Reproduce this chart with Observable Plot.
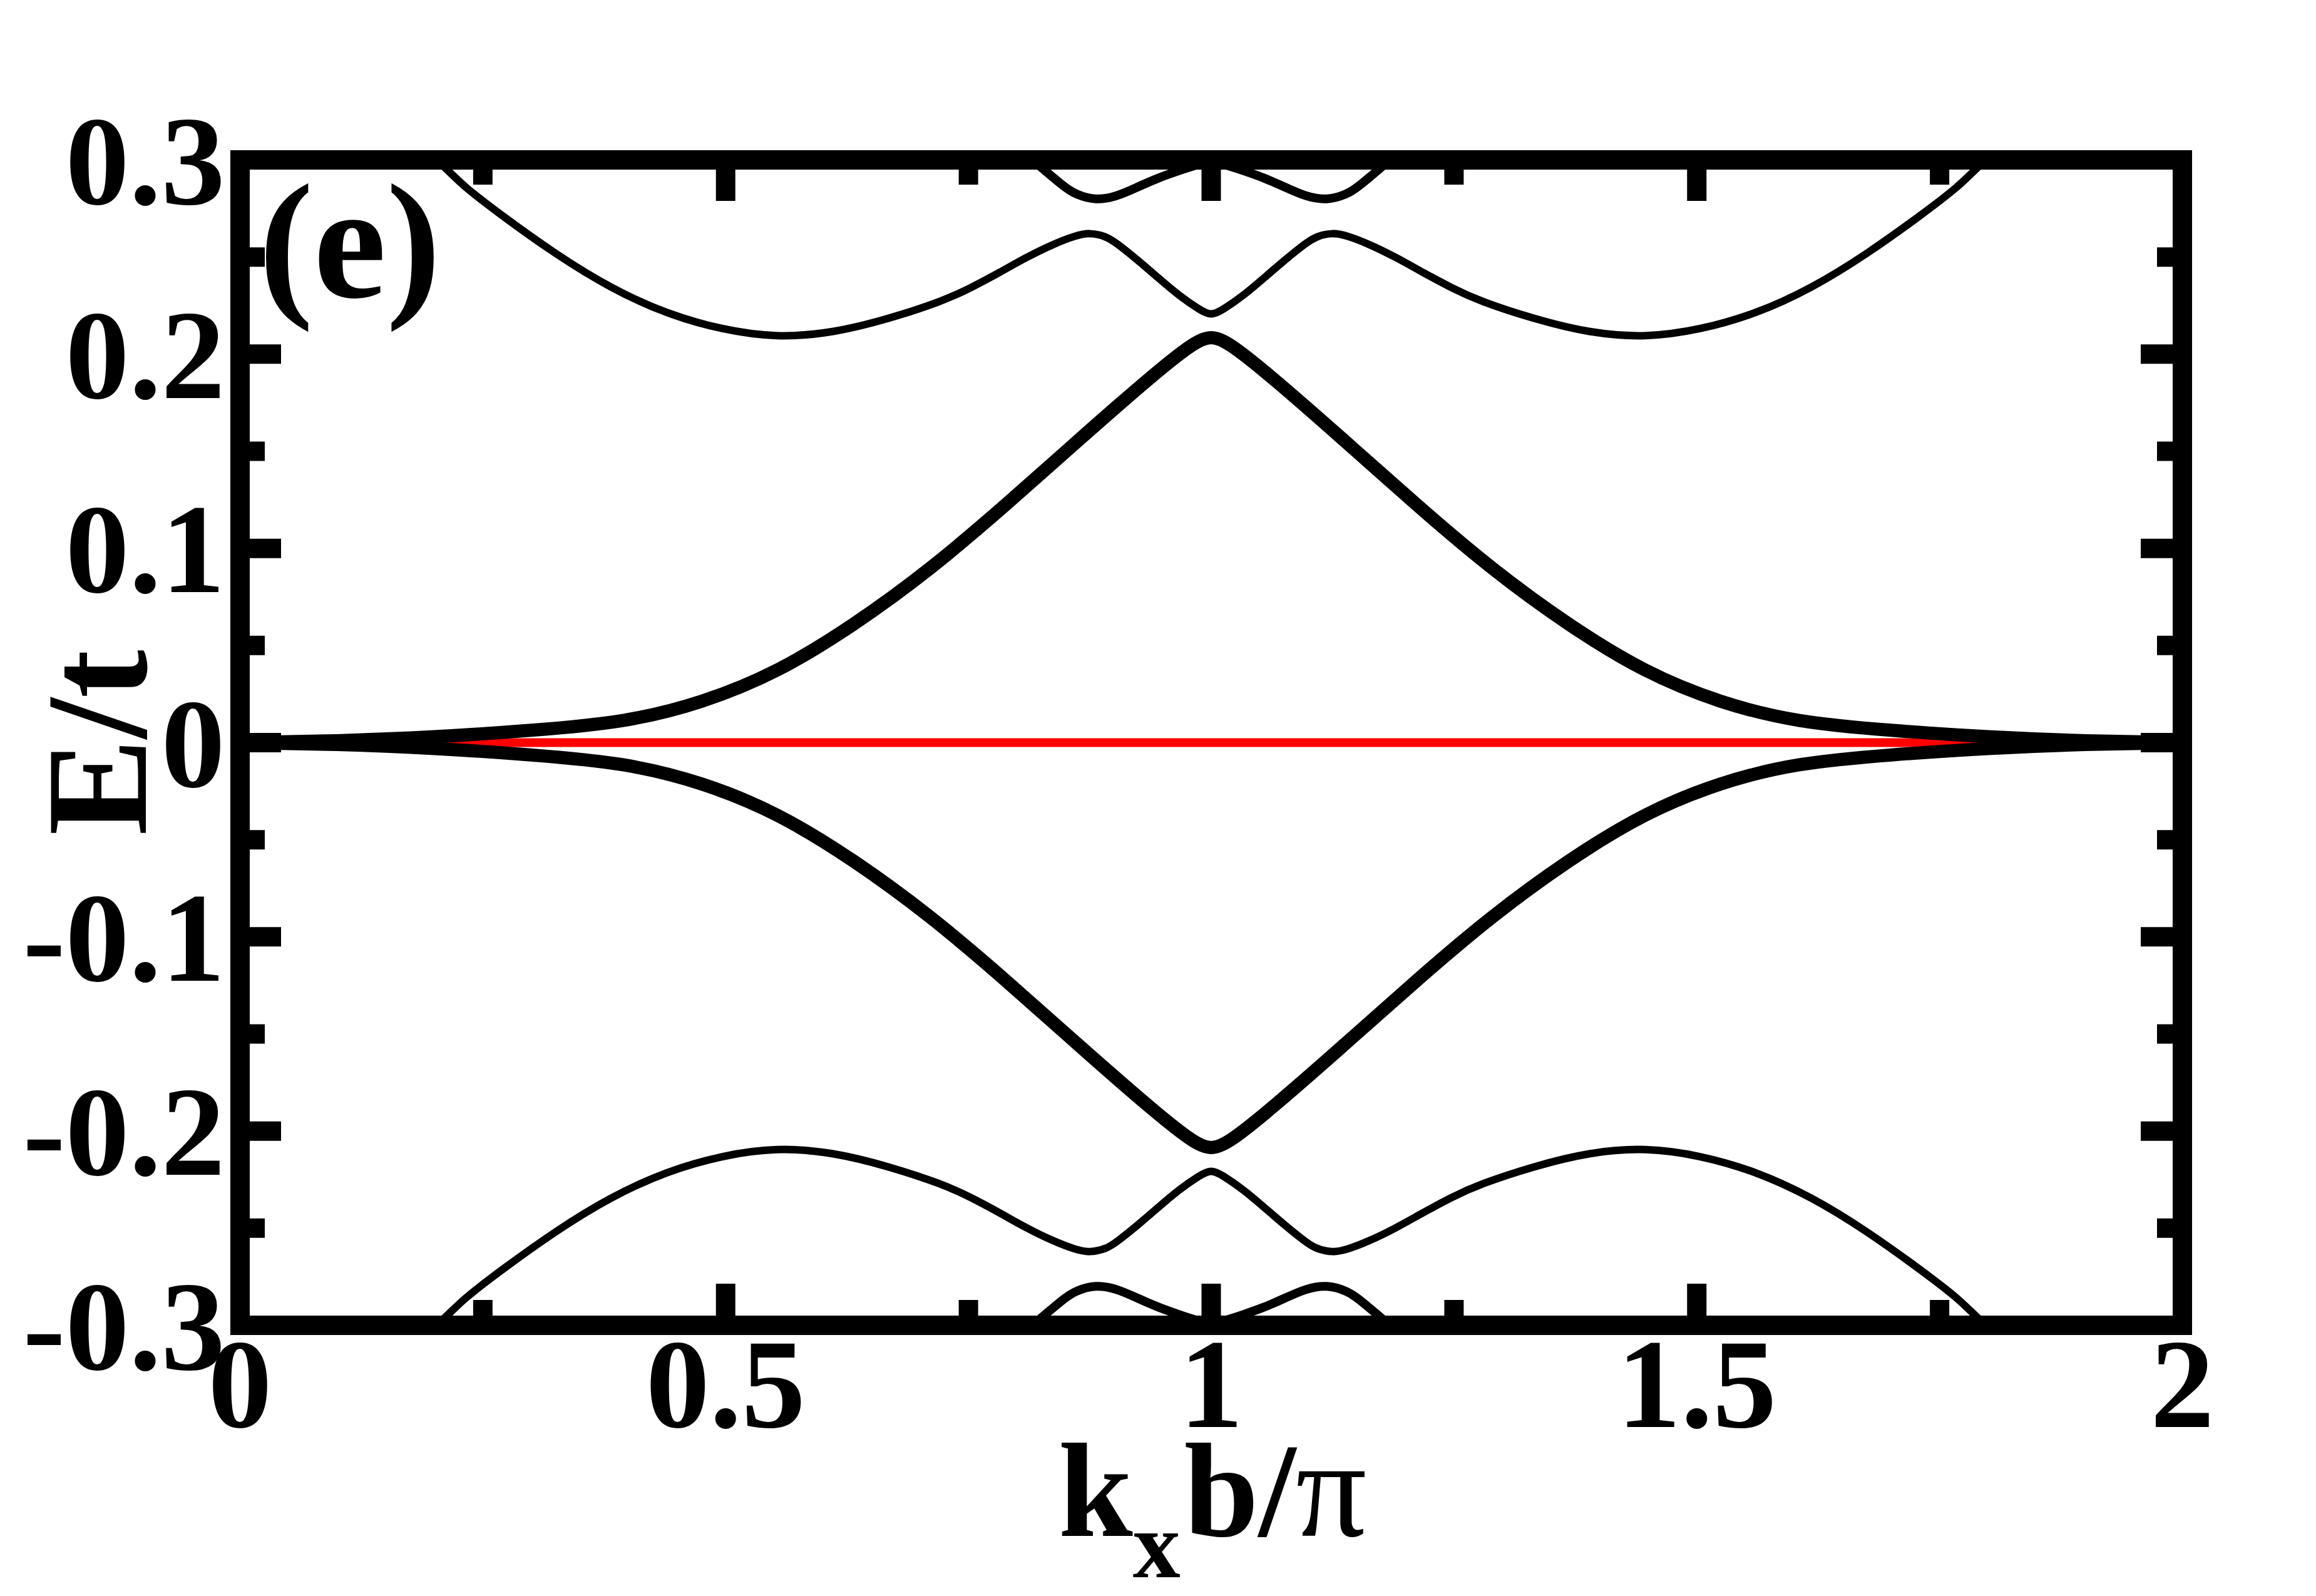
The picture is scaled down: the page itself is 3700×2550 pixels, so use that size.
<!DOCTYPE html>
<html>
<head>
<meta charset="utf-8">
<script src="https://cdn.jsdelivr.net/npm/d3@7"></script>
<script src="https://cdn.jsdelivr.net/npm/@observablehq/plot@0.6"></script>
<style>
  html, body { margin: 0; padding: 0; background: #ffffff; }
  #chart svg { display: block; }
</style>
</head>
<body>
<div id="chart"></div>
<script>
// ---- tick values and labels ----
const xMajorTicks = [0, 0.5, 1, 1.5, 2];
const xMinorTicks = [0.25, 0.75, 1.25, 1.75];
const xTickLabels = ["0", "0.5", "1", "1.5", "2"];
const yMajorTicks = [-0.3, -0.2, -0.1, 0, 0.1, 0.2, 0.3];
const yMinorTicks = [-0.25, -0.15, -0.05, 0.05, 0.15, 0.25];
const yTickLabels = ["-0.3", "-0.2", "-0.1", "0", "0.1", "0.2", "0.3"];
const yTitle = "E/t";
const xTitleParts = ["k", "x", "b/", "\u03C0"];
const panelLabel = "(e)";

// ---- red zero-energy line ----
const kZero = [0, 2];
const eZero = [0, 0];

// ---- inner (thick) band ----
const kInner = [0, 0.1, 0.2, 0.3, 0.3977, 0.4757, 0.5537, 0.632, 0.71, 0.788, 0.866, 0.9446, 0.9835, 1.0,
                1.0165, 1.0554, 1.134, 1.212, 1.29, 1.368, 1.4463, 1.5243, 1.6023, 1.7, 1.8, 1.9, 2.0];
const eInnerUpper = [0, 0.0008, 0.0028, 0.0062, 0.0105, 0.0204, 0.0361, 0.0604, 0.0888, 0.122, 0.157, 0.1913, 0.2065, 0.2095,
                     0.2065, 0.1913, 0.157, 0.122, 0.0888, 0.0604, 0.0361, 0.0204, 0.0105, 0.0062, 0.0028, 0.0008, 0];
const eInnerLower = [0, -0.0008, -0.0028, -0.0062, -0.0105, -0.0204, -0.0361, -0.0604, -0.0888, -0.122, -0.157, -0.1913, -0.2065, -0.2095,
                     -0.2065, -0.1913, -0.157, -0.122, -0.0888, -0.0604, -0.0361, -0.0204, -0.0105, -0.0062, -0.0028, -0.0008, 0];

// ---- outer band ----
const kOuter = [0.18, 0.214, 0.2295, 0.267, 0.325, 0.382, 0.44, 0.497, 0.552, 0.61, 0.667, 0.7245, 0.752, 0.782, 0.81, 0.838,
                0.86, 0.8746, 0.8918, 0.9025, 0.9242, 0.9456, 0.9668, 0.9885, 1.0,
                1.0115, 1.0332, 1.0544, 1.0758, 1.0975, 1.1082, 1.1254, 1.14, 1.162, 1.19, 1.218, 1.248, 1.2755, 1.333,
                1.39, 1.448, 1.503, 1.56, 1.618, 1.675, 1.733, 1.7705, 1.786, 1.82];
const eOuterUpper = [0.310, 0.2949, 0.2867, 0.2723, 0.2514, 0.2338, 0.2205, 0.2125, 0.2085, 0.2108, 0.2180, 0.2275, 0.2340, 0.2420, 0.2500, 0.2568,
                     0.2610, 0.2626, 0.2607, 0.2572, 0.2485, 0.2392, 0.2301, 0.2227, 0.2197,
                     0.2227, 0.2301, 0.2392, 0.2485, 0.2572, 0.2607, 0.2626, 0.2610, 0.2568, 0.2500, 0.2420, 0.2340, 0.2275, 0.2180,
                     0.2108, 0.2085, 0.2125, 0.2205, 0.2338, 0.2514, 0.2723, 0.2867, 0.2949, 0.310];
const eOuterLower = [-0.310, -0.2949, -0.2867, -0.2723, -0.2514, -0.2338, -0.2205, -0.2125, -0.2085, -0.2108, -0.2180, -0.2275, -0.2340, -0.2420, -0.2500, -0.2568,
                     -0.2610, -0.2626, -0.2607, -0.2572, -0.2485, -0.2392, -0.2301, -0.2227, -0.2197,
                     -0.2227, -0.2301, -0.2392, -0.2485, -0.2572, -0.2607, -0.2626, -0.2610, -0.2568, -0.2500, -0.2420, -0.2340, -0.2275, -0.2180,
                     -0.2108, -0.2085, -0.2125, -0.2205, -0.2338, -0.2514, -0.2723, -0.2867, -0.2949, -0.310];

// ---- band at the window edge (partly outside ±0.3) ----
const kEdge = [0.793, 0.816, 0.828, 0.849, 0.86, 0.881, 0.9025, 0.924, 0.9456, 0.967, 0.985, 1.0,
               1.015, 1.033, 1.0544, 1.076, 1.0975, 1.119, 1.14, 1.151, 1.172, 1.184, 1.207];
const eEdgeUpper = [0.310, 0.300, 0.2949, 0.286, 0.2823, 0.2791, 0.2811, 0.286, 0.2908, 0.2945, 0.2975, 0.2990,
                    0.2975, 0.2945, 0.2908, 0.286, 0.2811, 0.2791, 0.2823, 0.286, 0.2949, 0.300, 0.310];
const eEdgeLower = [-0.310, -0.300, -0.2949, -0.286, -0.2823, -0.2791, -0.2811, -0.286, -0.2908, -0.2945, -0.2975, -0.2990,
                    -0.2975, -0.2945, -0.2908, -0.286, -0.2811, -0.2791, -0.2823, -0.286, -0.2949, -0.300, -0.310];

// ---- build tables ----
function rows(ks, es, band) { return ks.map((k, i) => ({k, E: es[i], band})); }
const zeroRows = rows(kZero, eZero, "zero");
const innerRows = [...rows(kInner, eInnerUpper, "innerUp"), ...rows(kInner, eInnerLower, "innerDown")];
const outerRows = [...rows(kOuter, eOuterUpper, "outerUp"), ...rows(kOuter, eOuterLower, "outerDown")];
const edgeRows = [...rows(kEdge, eEdgeUpper, "edgeUp"), ...rows(kEdge, eEdgeLower, "edgeDown")];

// ---- layout ----
const W = 3700, Hgt = 2550;
const mL = 383, mR = 214, mT = 255, mB = 433;
const plotW = W - mL - mR, plotH = Hgt - mT - mB;
const frameW = 31, majorLen = 66, minorLen = 40;
const FONT = "'Liberation Serif', 'Times New Roman', Times, serif";

const chart = Plot.plot({
  width: W, height: Hgt,
  marginLeft: mL, marginRight: mR, marginTop: mT, marginBottom: mB,
  x: {domain: [0, 2]},
  y: {domain: [-0.3, 0.3]},
  style: {fontFamily: FONT, fontWeight: "bold", background: "#ffffff", color: "#000000"},
  marks: [
    Plot.line(zeroRows, {x: "k", y: "E", stroke: "#ff0000", strokeWidth: 14, clip: true}),
    Plot.line(innerRows, {x: "k", y: "E", z: "band", stroke: "#000000", strokeWidth: 21, curve: "basis", clip: true}),
    Plot.line(outerRows, {x: "k", y: "E", z: "band", stroke: "#000000", strokeWidth: 12, curve: "basis", clip: true}),
    Plot.line(edgeRows, {x: "k", y: "E", z: "band", stroke: "#000000", strokeWidth: 14, curve: "basis", clip: true}),
    // inward ticks on all four sides
    Plot.tickX(xMajorTicks, {x: d => d, stroke: "#000", strokeWidth: frameW, insetBottom: plotH - majorLen}),
    Plot.tickX(xMajorTicks, {x: d => d, stroke: "#000", strokeWidth: frameW, insetTop: plotH - majorLen}),
    Plot.tickX(xMinorTicks, {x: d => d, stroke: "#000", strokeWidth: frameW, insetBottom: plotH - minorLen}),
    Plot.tickX(xMinorTicks, {x: d => d, stroke: "#000", strokeWidth: frameW, insetTop: plotH - minorLen}),
    Plot.tickY(yMajorTicks, {y: d => d, stroke: "#000", strokeWidth: frameW, insetRight: plotW - majorLen}),
    Plot.tickY(yMajorTicks, {y: d => d, stroke: "#000", strokeWidth: frameW, insetLeft: plotW - majorLen}),
    Plot.tickY(yMinorTicks, {y: d => d, stroke: "#000", strokeWidth: frameW, insetRight: plotW - minorLen}),
    Plot.tickY(yMinorTicks, {y: d => d, stroke: "#000", strokeWidth: frameW, insetLeft: plotW - minorLen}),
    Plot.frame({stroke: "#000", strokeWidth: frameW}),
    // tick labels
    Plot.axisX(xMajorTicks, {tickSize: 0, tickPadding: 18, label: null, fontSize: 204, fontWeight: "bold",
      tickFormat: d => xTickLabels[xMajorTicks.indexOf(d)]}),
    Plot.axisY(yMajorTicks, {tickSize: 0, tickPadding: 24, label: null, fontSize: 204, fontWeight: "bold", dy: 5,
      tickFormat: d => yTickLabels[yMajorTicks.indexOf(d)]}),
    // titles
    Plot.text([yTitle], {frameAnchor: "left", dx: -151, dy: 0, rotate: -90, lineAnchor: "bottom",
      textAnchor: "middle", fontSize: 232, fontWeight: "bold", fill: "#000"}),
    Plot.text([xTitleParts.join("")], {frameAnchor: "bottom", dx: 2, dy: 336, lineAnchor: "bottom",
      textAnchor: "middle", fontSize: 214, fontWeight: "bold", fill: "#000", ariaDescription: "xtitle"}),
    Plot.text([panelLabel], {frameAnchor: "top-left", dx: 30, dy: 219, lineAnchor: "bottom",
      textAnchor: "start", fontSize: 262, fontWeight: "bold", fill: "#000"})
  ]
});

document.getElementById("chart").appendChild(chart);

// compose the x title with a subscript and an upright pi
const xt = d3.select(chart).select('g[aria-description="xtitle"] text');
if (!xt.empty()) {
  xt.text(null);
  xt.append("tspan").text(xTitleParts[0]);
  xt.append("tspan").attr("font-size", 152).attr("dy", 66).text(xTitleParts[1]);
  xt.append("tspan").attr("font-size", 214).attr("dy", -66).attr("dx", 6).text(xTitleParts[2]);
  xt.append("tspan").attr("font-weight", "normal").attr("font-size", 224).text(xTitleParts[3]);
}
</script>
</body>
</html>
